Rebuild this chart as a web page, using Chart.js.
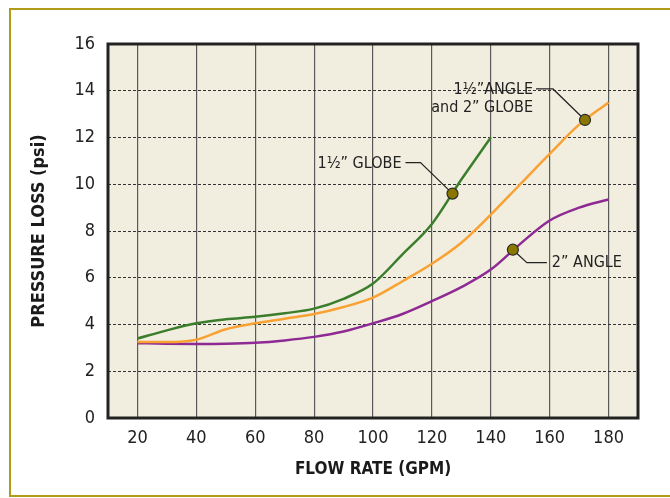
<!DOCTYPE html>
<html>
<head>
<meta charset="utf-8">
<script src="https://cdn.jsdelivr.net/npm/chart.js@4"></script>
<style>
  html, body { margin: 0; padding: 0; background: #fff; }
  #wrap { width: 670px; height: 498px; position: relative; }
</style>
</head>
<body>
<div id="wrap"><canvas id="chart" width="670" height="498"></canvas></div>
<script>
// Flow rate (GPM) sample points and pressure loss (psi)
const flowGlobe15 = [20, 30, 40, 50, 60, 70, 80, 90, 100, 110, 120, 130, 140];
const lossGlobe15 = [3.4, 3.75, 4.05, 4.22, 4.33, 4.48, 4.68, 5.1, 5.75, 7.0, 8.3, 10.2, 12.0];

const flowAngle15 = [20, 30, 40, 50, 60, 70, 80, 90, 100, 110, 120, 130, 140, 150, 160, 170, 180];
const lossAngle15 = [3.25, 3.25, 3.35, 3.8, 4.05, 4.25, 4.45, 4.75, 5.15, 5.85, 6.6, 7.5, 8.7, 10.0, 11.3, 12.55, 13.5];

const flowAngle2 = [20, 30, 40, 50, 60, 70, 80, 90, 100, 110, 120, 130, 140, 150, 160, 170, 180];
const lossAngle2 = [3.2, 3.18, 3.17, 3.18, 3.22, 3.32, 3.47, 3.7, 4.05, 4.45, 5.0, 5.6, 6.35, 7.45, 8.45, 9.0, 9.35];

// callout markers: x, y on each curve
const markerX = [127, 172, 147.5];
const markerY = [9.6, 12.75, 7.2];
const markerText = [['1½” GLOBE'], ['1½”ANGLE', 'and 2” GLOBE'], ['2” ANGLE']];

const xTicks = [20, 40, 60, 80, 100, 120, 140, 160, 180];
const yTicks = [0, 2, 4, 6, 8, 10, 12, 14, 16];

const COLORS = {
  green: '#3a7e2c',
  orange: '#f9a133',
  purple: '#8d2a93',
  marker: '#8a7700',
  cream: '#f2eedf',
  frame: '#b39b1a',
};

const FONT = "'Liberation Sans Narrow', 'DejaVu Sans Condensed', 'Roboto', sans-serif";

function pts(xs, ys) {
  return xs.map((x, i) => ({ x: x, y: ys[i] }));
}

// callout layout relative to the marker pixel (kept out of the data)
const callouts = [
  { textAt: [-51, -30], align: 'right', lineH: 18, leader: [[-47, -31], [-32, -31]] },
  { textAt: [-52, -30], align: 'right', lineH: 18, leader: [[-49, -31], [-32, -31]] },
  { textAt: [39, 13], align: 'left', lineH: 18, leader: [[14, 13], [34, 13]] },
];

const decorPlugin = {
  id: 'decor',
  beforeDraw(chart) {
    const { ctx, chartArea: a } = chart;
    ctx.save();
    // outer gold frame
    ctx.strokeStyle = COLORS.frame;
    ctx.lineWidth = 2;
    ctx.strokeRect(10, 9, 680, 487);
    ctx.fillStyle = COLORS.cream;
    ctx.fillRect(a.left, a.top, a.right - a.left, a.bottom - a.top);
    ctx.restore();
  },
  beforeDatasetsDraw(chart) {
    const { ctx, scales } = chart;
    ctx.save();
    ctx.strokeStyle = '#222';
    ctx.lineWidth = 1.2;
    ctx.fillStyle = '#222';
    ctx.font = '16px ' + FONT;
    ctx.textBaseline = 'middle';
    markerX.forEach((mx, i) => {
      const px = scales.x.getPixelForValue(mx);
      const py = scales.y.getPixelForValue(markerY[i]);
      const c = callouts[i];
      ctx.beginPath();
      if (c.align === 'right') {
        ctx.moveTo(px + c.leader[0][0], py + c.leader[0][1]);
        ctx.lineTo(px + c.leader[1][0], py + c.leader[1][1]);
        ctx.lineTo(px, py);
      } else {
        ctx.moveTo(px, py);
        ctx.lineTo(px + c.leader[0][0], py + c.leader[0][1]);
        ctx.lineTo(px + c.leader[1][0], py + c.leader[1][1]);
      }
      ctx.stroke();
      ctx.textAlign = c.align;
      markerText[i].forEach((t, j) => {
        ctx.fillText(t, px + c.textAt[0], py + c.textAt[1] + j * c.lineH);
      });
    });
    ctx.restore();
  },
  afterDraw(chart) {
    const { ctx, chartArea: a } = chart;
    ctx.save();
    ctx.strokeStyle = '#222';
    ctx.lineWidth = 3;
    ctx.strokeRect(a.left, a.top, a.right - a.left, a.bottom - a.top);
    ctx.restore();
  }
};

const lineStyle = (color) => ({
  borderColor: color,
  borderWidth: 2.5,
  pointRadius: 0,
  fill: false,
  cubicInterpolationMode: 'monotone',
});

new Chart(document.getElementById('chart'), {
  type: 'line',
  data: {
    datasets: [
      {
        label: 'callouts',
        data: pts(markerX, markerY),
        showLine: false,
        pointRadius: 5.5,
        pointBackgroundColor: COLORS.marker,
        pointBorderColor: '#2b2b2b',
        pointBorderWidth: 1.2,
      },
      Object.assign({ label: '1½” GLOBE', data: pts(flowGlobe15, lossGlobe15) }, lineStyle(COLORS.green)),
      Object.assign({ label: '1½” ANGLE and 2” GLOBE', data: pts(flowAngle15, lossAngle15) }, lineStyle(COLORS.orange)),
      Object.assign({ label: '2” ANGLE', data: pts(flowAngle2, lossAngle2) }, lineStyle(COLORS.purple)),
    ]
  },
  options: {
    responsive: false,
    animation: false,
    events: [],
    layout: { padding: { left: 0, top: 44, right: 32, bottom: 0 } },
    plugins: { legend: { display: false }, tooltip: { enabled: false } },
    scales: {
      x: {
        type: 'linear',
        min: 10,
        max: 190,
        afterBuildTicks: (s) => { s.ticks = xTicks.map(v => ({ value: v })); },
        afterFit: (s) => { s.height = 80; },
        grid: { color: '#5a5a5a', lineWidth: 1.2, drawTicks: false },
        border: { display: false },
        ticks: { color: '#222', padding: 10, font: { family: FONT, size: 18 } },
        title: {
          display: true, text: 'FLOW RATE (GPM)', color: '#1a1a1a',
          font: { family: FONT, size: 17, weight: 'bold' },
          padding: { top: 0, bottom: 18 }
        }
      },
      y: {
        min: 0,
        max: 16,
        afterBuildTicks: (s) => { s.ticks = yTicks.map(v => ({ value: v })); },
        afterFit: (s) => { s.width = 108; },
        grid: { color: '#333', lineWidth: 1, drawTicks: false },
        border: { display: false, dash: [3, 2] },
        ticks: { color: '#222', padding: 13, font: { family: FONT, size: 18 } },
        title: {
          display: true, text: 'PRESSURE LOSS (psi)', color: '#1a1a1a',
          font: { family: FONT, size: 18, weight: 'bold' },
          padding: { top: 29, bottom: 0 }
        }
      }
    }
  },
  plugins: [decorPlugin]
});
</script>
</body>
</html>
